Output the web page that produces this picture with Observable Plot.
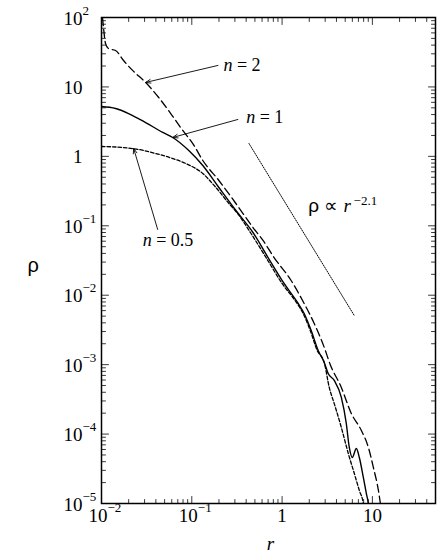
<!DOCTYPE html>
<html><head><meta charset="utf-8">
<script src="https://cdn.jsdelivr.net/npm/d3@7"></script>
<script src="https://cdn.jsdelivr.net/npm/@observablehq/plot@0.6"></script>
<style>html,body{margin:0;padding:0;background:#fff} #chart svg{display:block} #chart svg text{font-family:"Liberation Serif","Times New Roman",serif}</style>
</head><body><div id="chart"></div>
<script>
// ---- data ----
// n = 2 (long dashes)
const r_n2   = [0.01026,0.01052,0.01107,0.01197,0.01432,0.01756,0.02209,0.03083,0.04298,0.05843,0.0794,0.1026,0.1324,0.1995,0.308,0.476,0.615,0.815,1.259,1.755,2.268,2.93,3.41,4.53,5.84,7.55,9.03,10.26,11.66,12.27,12.6];
const rho_n2 = [100,71.8,42.3,35.7,33.5,24.0,17.3,11.6,7.05,4.14,2.36,1.53,0.872,0.449,0.2094,0.0944,0.0614,0.0349,0.0163,0.0076,0.00392,0.00177,0.001005,0.000469,0.000198,0.0001127,6.41e-5,3.30e-5,1.54e-5,1e-5,7.9e-6];
// n = 1 (solid)
const r_n1   = [0.01,0.01432,0.01995,0.03083,0.04764,0.0615,0.0926,0.1324,0.1995,0.308,0.476,0.699,1.052,1.506,1.755,2.10,2.51,2.93,3.24,3.78,4.53,5.14,5.55,5.99,6.64,7.17,7.94,8.58,9.03,9.26];
const rho_n1 = [5.22,4.89,4.14,3.07,2.21,1.87,1.214,0.738,0.356,0.166,0.080,0.0349,0.01476,0.0076,0.00546,0.0031,0.0016,0.001074,0.000746,0.000592,0.000337,0.000142,6.41e-5,4.60e-5,6.19e-5,4.60e-5,2.37e-5,1.39e-5,1e-5,7.9e-6];
// n = 0.5 (short dashes)
const r_n05   = [0.01,0.0171,0.0258,0.0398,0.0615,0.0858,0.1324,0.185,0.258,0.316,0.453,0.664,1.0,1.468,1.711,2.05,2.45,2.93,3.33,3.78,4.53,5.41,6.31,7.17,7.94,8.15];
const rho_n05 = [1.387,1.342,1.256,1.10,0.931,0.789,0.566,0.356,0.2094,0.155,0.0774,0.0349,0.01476,0.0076,0.00546,0.0031,0.0016,0.001074,0.000469,0.000275,0.0001245,5.25e-5,2.70e-5,1.54e-5,1e-5,7.9e-6];
// power-law guide rho ∝ r^-2.1 (dotted)
const r_pow   = [0.43, 6.3];
const rho_pow = [1.53, 0.0051];
const powLabel = "ρ ∝ r^−2.1";
const powLabelR = 1.945, powLabelRho = 0.195;

// curve labels and arrows
const labelText = ["n = 2", "n = 1", "n = 0.5"];
const labelR    = [0.224, 0.40, 0.0286];
const labelRho  = [20.4, 3.63, 0.0614];
const arrowR1   = [0.195, 0.324, 0.0419];
const arrowRho1 = [20.4, 3.40, 0.0885];
const arrowR2   = [0.0308, 0.0615, 0.0227];
const arrowRho2 = [11.6, 1.87, 1.30];

// ticks and tick labels
const xTickVals = [0.01, 0.1, 1, 10];
const xTickBase = ["10", "10", "1", "10"];
const xTickExp  = ["−2", "−1", "", ""];
const yTickVals = [1e-5, 1e-4, 1e-3, 1e-2, 1e-1, 1, 10, 100];
const yTickBase = ["10", "10", "10", "10", "10", "1", "10", "10"];
const yTickExp  = ["−5", "−4", "−3", "−2", "−1", "", "", "2"];
const xMinor = [];
for (const e of [-2, -1, 0, 1]) for (let m = 2; m <= 9; m++) { const v = m * 10 ** e; if (v < 50) xMinor.push(v); }
const yMinor = [];
for (const e of [-5, -4, -3, -2, -1, 0, 1]) for (let m = 2; m <= 9; m++) yMinor.push(m * 10 ** e);

// ---- build ----
const toRows = (R, P) => R.map((r, i) => ({r, rho: P[i]}));
const serif = "Liberation Serif";
const sans = "Liberation Sans";
const tickShape = {draw(ctx, l) { ctx.moveTo(0, 0); ctx.lineTo(0, -l); }};
const tickOpts = {shape: tickShape, anchor: "start", stroke: "#222", strokeWidth: 0.9};

const arrows = labelText.map((t, i) => ({x1: arrowR1[i], y1: arrowRho1[i], x2: arrowR2[i], y2: arrowRho2[i]}));
const labels = labelText.map((t, i) => ({t, r: labelR[i], rho: labelRho[i]}));
const txt = {fill: "black", fontFamily: serif};

const chart = Plot.plot({
  width: 441, height: 559,
  marginLeft: 101, marginRight: 6, marginTop: 17, marginBottom: 56,
  x: {type: "log", domain: [0.01, 50], axis: null},
  y: {type: "log", domain: [1e-5, 100], axis: null},
  style: {fontFamily: serif, background: "white", color: "black"},
  marks: [
    // ticks (inward, mirrored on all sides)
    Plot.vector(xMinor, {x: d => d, frameAnchor: "bottom", rotate: 0, length: 4, ...tickOpts}),
    Plot.vector(xTickVals, {x: d => d, frameAnchor: "bottom", rotate: 0, length: 7, ...tickOpts}),
    Plot.vector(xMinor, {x: d => d, frameAnchor: "top", rotate: 180, length: 4, ...tickOpts}),
    Plot.vector(xTickVals, {x: d => d, frameAnchor: "top", rotate: 180, length: 7, ...tickOpts}),
    Plot.vector(yMinor, {y: d => d, frameAnchor: "left", rotate: 90, length: 4, ...tickOpts}),
    Plot.vector(yTickVals, {y: d => d, frameAnchor: "left", rotate: 90, length: 7, ...tickOpts}),
    Plot.vector(yMinor, {y: d => d, frameAnchor: "right", rotate: -90, length: 4, ...tickOpts}),
    Plot.vector(yTickVals, {y: d => d, frameAnchor: "right", rotate: -90, length: 7, ...tickOpts}),
    // curves
    Plot.line(toRows(r_n2, rho_n2), {x: "r", y: "rho", stroke: "black", strokeWidth: 1.3, strokeDasharray: "8,4", curve: "monotone-x", clip: true}),
    Plot.line(toRows(r_n1, rho_n1), {x: "r", y: "rho", stroke: "black", strokeWidth: 1.4, curve: "monotone-x", clip: true}),
    Plot.line(toRows(r_n05, rho_n05), {x: "r", y: "rho", stroke: "black", strokeWidth: 1.3, strokeDasharray: "3.5,2", curve: "monotone-x", clip: true}),
    Plot.line(toRows(r_pow, rho_pow), {x: "r", y: "rho", stroke: "black", strokeWidth: 1, strokeDasharray: "1,1.3"}),
    // annotations
    Plot.arrow(arrows, {x1: "x1", y1: "y1", x2: "x2", y2: "y2", stroke: "black", strokeWidth: 0.9, headLength: 9, headAngle: 40}),
    Plot.text(labels, {x: "r", y: "rho", text: "t", textAnchor: "start", fontSize: 18, ...txt}),
    Plot.text([powLabel], {x: () => powLabelR, y: () => powLabelRho, text: d => d, textAnchor: "start", fontSize: 19, ...txt}),
    // tick labels
    Plot.text(yTickVals, {y: d => d, text: (d, i) => yTickBase[i], frameAnchor: "left", dx: -19, dy: 1, textAnchor: "end", fontSize: 19, ...txt}),
    Plot.text(yTickVals, {y: d => d, text: (d, i) => yTickExp[i], frameAnchor: "left", dx: -19, dy: -7, textAnchor: "start", fontSize: 13, ...txt}),
    Plot.text(xTickVals, {filter: (d, i) => xTickExp[i] !== "", x: d => d, text: (d, i) => xTickBase[i], frameAnchor: "bottom", dx: 6, dy: 18, textAnchor: "end", fontSize: 19, ...txt}),
    Plot.text(xTickVals, {filter: (d, i) => xTickExp[i] !== "", x: d => d, text: (d, i) => xTickExp[i], frameAnchor: "bottom", dx: 6, dy: 8, textAnchor: "start", fontSize: 13, ...txt}),
    Plot.text(xTickVals, {filter: (d, i) => xTickExp[i] === "", x: d => d, text: (d, i) => xTickBase[i], frameAnchor: "bottom", dy: 18, textAnchor: "middle", fontSize: 19, ...txt}),
    // axis labels
    Plot.text(["ρ"], {frameAnchor: "left", dx: -74, dy: 5, text: d => d, fontSize: 20, fill: "black", fontFamily: sans}),
    Plot.text(["r"], {frameAnchor: "bottom", dx: 2, dy: 46, text: d => d, fontSize: 19, fontStyle: "italic", ...txt}),
    // frame
    Plot.frame({stroke: "black", strokeWidth: 1.5})
  ]
});

// rich text: italic n, italic r, superscript exponent
d3.select(chart).selectAll("text").each(function () {
  const s = this.textContent;
  const sel = d3.select(this);
  let m = /^n (= .*)$/.exec(s);
  if (m) {
    sel.text(null);
    sel.append("tspan").attr("font-style", "italic").text("n");
    sel.append("tspan").text("\u00a0" + m[1].replace(" ", "\u00a0"));
    return;
  }
  m = /^ρ ∝ r\^(.*)$/.exec(s);
  if (m) {
    sel.text(null);
    sel.append("tspan").attr("font-family", sans).style("font-family", sans).text("ρ\u00a0∝\u00a0");
    sel.append("tspan").attr("font-style", "italic").text("r");
    sel.append("tspan").attr("dy", "-0.55em").attr("font-size", 13).text("\u2009" + m[1]);
  }
});
// axis label ρ keeps the sans face
d3.select(chart).selectAll("text").filter(function () { return this.textContent === "ρ"; }).style("font-family", sans);

document.getElementById("chart").appendChild(chart);
</script>
</body></html>
